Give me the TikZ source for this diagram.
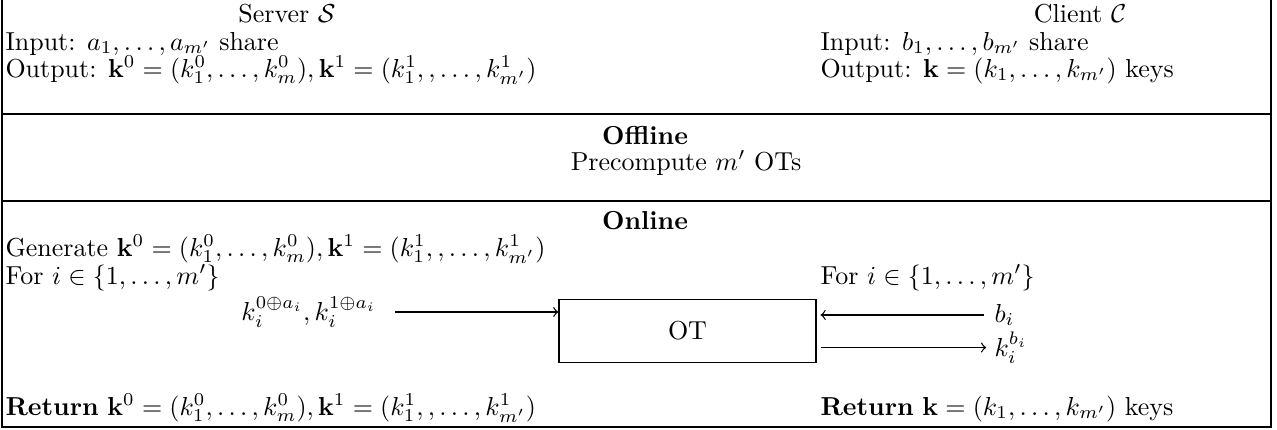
\documentclass[tikz,border=0pt]{standalone}
\usepackage{amsmath,amssymb}
\begin{document}
\begin{tikzpicture}[x=0.385pt,y=-0.385pt,
  lbl/.style={inner sep=0pt, anchor=base west},
  ctr/.style={inner sep=0pt, anchor=base},
  rule/.style={line width=0.6pt},
  otbox/.style={draw, line width=0.5pt, inner sep=0pt, minimum width=98.9pt, minimum height=24.3pt},
  msg/.style={->, line width=0.5pt}]
\useasboundingbox (0,0) rectangle (1277,429);
% outer frame (open at the top) and the two section rules
\draw[rule] (2,0) -- (2,427) -- (1271,427) -- (1271,0);
\draw[rule] (2,114) -- (1271,114);
\draw[rule] (2,201) -- (1271,201);

% party headers
\node[ctr] (srv) at (287,22) {Server $\mathcal{S}$};
\node[ctr] (cli) at (1080,22) {Client $\mathcal{C}$};
\node[lbl] (sin) at (5,50) {Input: $a_1,\dots,a_{m'}$ share};
\node[lbl] (sout) at (5,77) {Output: $\mathbf{k}^0=(k^0_1,\dots,k^0_m),\mathbf{k}^1=(k^1_1,,\dots,k^1_{m'})$};
\node[lbl] (cin) at (820,50) {Input: $b_1,\dots,b_{m'}$ share};
\node[lbl] (cout) at (820,77) {Output: $\mathbf{k}=(k_1,\dots,k_{m'})$ keys};

% offline phase
\node[ctr] (off) at (645,144) {\textbf{Offline}};
\node[ctr] (pre) at (686,170) {Precompute $m'$ OTs};

% online phase
\node[ctr] (on) at (645,229) {\textbf{Online}};
\node[lbl] (gen) at (5,256) {Generate $\mathbf{k}^0=(k^0_1,\dots,k^0_m),\mathbf{k}^1=(k^1_1,,\dots,k^1_{m'})$};
\node[lbl] (sfor) at (5,284) {For $i\in\{1,\dots,m'\}$};
\node[lbl] (cfor) at (820,284) {For $i\in\{1,\dots,m'\}$};

\node[otbox] (ot) at (687.5,331) {OT};

\node[inner sep=0pt, anchor=base east] (ka) at (377,320) {$k_i^{0\oplus a_i},k_i^{1\oplus a_i}$};
\node[lbl] (bi) at (994,322) {$b_i$};
\node[lbl] (kb) at (994,356) {$k_i^{b_i}$};

\draw[msg] ([xshift=7pt]ka.east) -- (ot.west |- ka.east);
\draw[msg] ([xshift=-4pt]bi.west) -- ([xshift=1.5pt]ot.east |- bi.west);
\draw[msg] ([xshift=1.5pt]ot.east |- kb.west) -- ([xshift=-3pt]kb.west);

% results
\node[lbl] (sret) at (5,415) {\textbf{Return} $\mathbf{k}^0=(k^0_1,\dots,k^0_m),\mathbf{k}^1=(k^1_1,,\dots,k^1_{m'})$};
\node[lbl] (cret) at (820,415) {\textbf{Return} $\mathbf{k}=(k_1,\dots,k_{m'})$ keys};
\end{tikzpicture}
\end{document}
